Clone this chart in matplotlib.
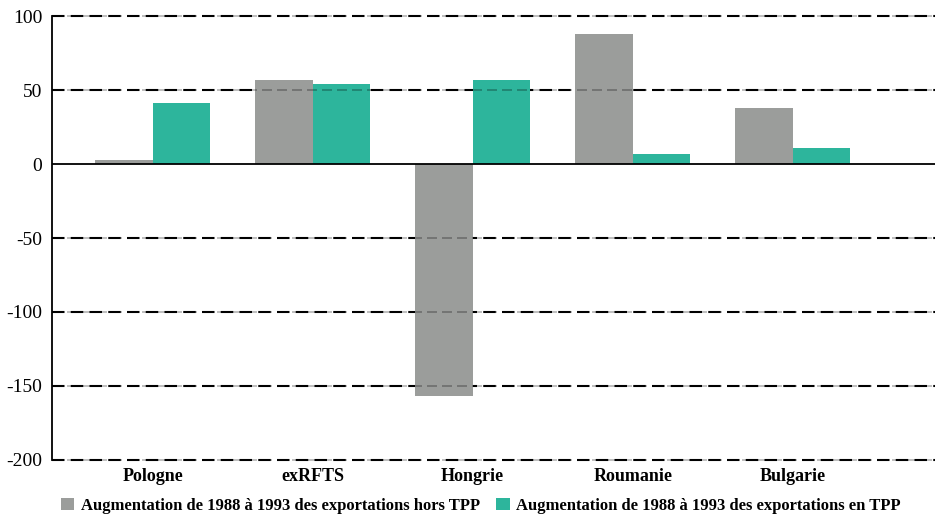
import matplotlib.pyplot as plt
import numpy as np

plt.rcParams['font.family'] = ['Liberation Serif', 'DejaVu Serif']

# données
pays = ['Pologne', 'exRFTS', 'Hongrie', 'Roumanie', 'Bulgarie']
hors_tpp = [3, 57, -157, 88, 38]
en_tpp = [41, 54, 57, 7, 11]
ticks_y = [100, 50, 0, -50, -100, -150, -200]
label_hors = 'Augmentation de 1988 à 1993 des exportations hors TPP'
label_en = 'Augmentation de 1988 à 1993 des exportations en TPP'

gris = '#9b9d9b'
vert = '#2db59c'

fig = plt.figure(figsize=(9.39, 5.17), dpi=100)
ax = fig.add_axes([0.0554, 0.1103, 0.9403, 0.8587])

x = np.arange(len(pays))
w = 0.36
b1 = ax.bar(x - w / 2, hors_tpp, w, color=gris, label=label_hors, zorder=2)
b2 = ax.bar(x + w / 2, en_tpp, w, color=vert, label=label_en, zorder=2)

# lignes pointillées : noires derrière, plus claires par-dessus les barres
for yv in ticks_y:
    if yv == 0:
        ax.axhline(0, color='black', lw=1.3, zorder=3)
        continue
    ax.axhline(yv, color='black', lw=1.5, ls=(0, (6, 3)), zorder=1, clip_on=False)
    ax.axhline(yv, color='black', lw=1.2, ls=(0, (6, 3)), alpha=0.3, zorder=3, clip_on=False)

ax.set_ylim(-200, 100)
ax.set_xlim(-0.63, 4.89)
ax.set_yticks(ticks_y)
ax.set_yticklabels([str(t) for t in ticks_y], fontsize=14)
ax.set_xticks(x)
ax.set_xticklabels(pays, fontsize=13, fontweight='bold')
ax.tick_params(axis='both', length=0)
ax.tick_params(axis='x', pad=6)
ax.tick_params(axis='y', pad=7)

for s in ['top', 'right', 'bottom']:
    ax.spines[s].set_visible(False)
ax.spines['left'].set_linewidth(1.3)

fig.legend(handles=[b1, b2], loc='center', bbox_to_anchor=(0.512, 0.022),
           ncol=2, frameon=False, prop={'size': 12, 'weight': 'bold'},
           handlelength=0.8, handleheight=0.8, handletextpad=0.4,
           columnspacing=1.0, borderpad=0)

fig.savefig('out.png', dpi=100)
